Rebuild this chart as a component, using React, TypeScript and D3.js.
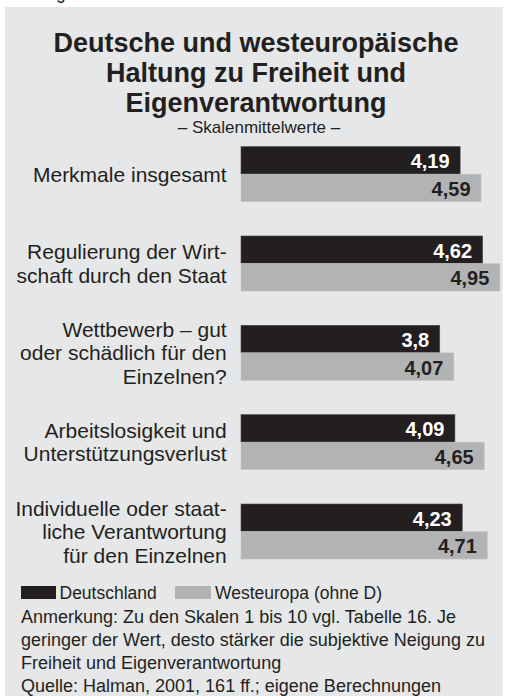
import React from 'react';
import * as d3 from 'd3';

// Skalenmittelwerte (lower = stronger preference for freedom / own responsibility)
const categories = [
  'Merkmale insgesamt',
  'Regulierung der Wirtschaft',
  'Wettbewerb',
  'Arbeitslosigkeit',
  'Verantwortung',
];
const categoryLines = [
  ['Merkmale insgesamt'],
  ['Regulierung der Wirt-', 'schaft durch den Staat'],
  ['Wettbewerb – gut', 'oder schädlich für den', 'Einzelnen?'],
  ['Arbeitslosigkeit und', 'Unterstützungsverlust'],
  ['Individuelle oder staat-', 'liche Verantwortung', 'für den Einzelnen'],
];
const deutschland = [4.19, 4.62, 3.8, 4.09, 4.23];
const westeuropa = [4.59, 4.95, 4.07, 4.65, 4.71];
const seriesKeys = ['Deutschland', 'Westeuropa (ohne D)'];

const titleLines = [
  'Deutsche und westeuropäische',
  'Haltung zu Freiheit und',
  'Eigenverantwortung',
];
const subtitle = '– Skalenmittelwerte –';
const noteLines = [
  'Anmerkung: Zu den Skalen 1 bis 10 vgl. Tabelle 16. Je',
  'geringer der Wert, desto stärker die subjektive Neigung zu',
  'Freiheit und Eigenverantwortung',
  'Quelle: Halman, 2001, 161 ff.; eigene Berechnungen',
];

const W = 505;
const H = 696;
const FONT = '"Liberation Sans", Arial, Helvetica, sans-serif';
const INK = '#231f20';
const DARK = '#231f20';
const LIGHT = '#b2b3b5';
const BG = '#e6e7e8';

const fmt = (v: number) => String(v).replace('.', ',');

export default function App() {
  const x = d3.scaleLinear().domain([0, 5]).range([241, 502.5]);

  const y = d3
    .scaleBand<string>()
    .domain(categories)
    .range([129.5, 576.2])
    .paddingInner(0.384)
    .paddingOuter(0.192);

  const inner = d3
    .scaleBand<string>()
    .domain(seriesKeys)
    .range([0, y.bandwidth()]);

  const colors = d3.scaleOrdinal<string, string>().domain(seriesKeys).range([DARK, LIGHT]);
  const series = [deutschland, westeuropa];
  const lineH = 23.5;

  return (
    <svg
      width={W}
      height={H}
      style={{ position: 'absolute', left: 0, top: 0, fontFamily: FONT }}
    >
      <rect x={0} y={0} width={W} height={H} fill="#fff" />
      {/* fragment of the line above the panel */}
      <text x={56} y={-1} fontSize={17.5} fill={INK}>g</text>
      <rect x={5} y={7} width={497.7} height={H - 7} fill={BG} />

      {titleLines.map((t, i) => (
        <text
          key={t}
          x={256}
          y={51.5 + i * 30}
          textAnchor="middle"
          fontSize={27}
          fontWeight="bold"
          fill={INK}
        >
          {t}
        </text>
      ))}
      <text x={259} y={133} textAnchor="middle" fontSize={17} fill={INK}>
        {subtitle}
      </text>

      {categories.map((c, ci) => {
        const y0 = y(c)!;
        const cy = y0 + y.bandwidth() / 2;
        const lines = categoryLines[ci];
        return (
          <g key={c}>
            {lines.map((l, li) => (
              <text
                key={l}
                x={226.7}
                y={cy + (li - (lines.length - 1) / 2) * lineH + 7.5}
                textAnchor="end"
                fontSize={21}
                fill={INK}
              >
                {l}
              </text>
            ))}
            {seriesKeys.map((k, si) => {
              const v = series[si][ci];
              const by = y0 + inner(k)!;
              const bh = inner.bandwidth();
              return (
                <g key={k}>
                  <rect
                    x={x(0)}
                    y={by}
                    width={x(v) - x(0)}
                    height={bh}
                    fill={colors(k)}
                    stroke={si === 0 ? '#4a4647' : '#c4c5c7'}
                    strokeWidth={0.6}
                  />
                  <text
                    x={x(v) - 10.5}
                    y={by + bh / 2 + 8}
                    textAnchor="end"
                    fontSize={20}
                    fontWeight="bold"
                    fill={si === 0 ? '#ffffff' : INK}
                  >
                    {fmt(v)}
                  </text>
                </g>
              );
            })}
          </g>
        );
      })}

      {/* legend */}
      <rect x={21} y={586} width={35} height={13} fill={colors(seriesKeys[0])} />
      <text x={59.5} y={599} fontSize={17.5} fill={INK}>{seriesKeys[0]}</text>
      <rect x={175} y={586} width={36} height={13} fill={colors(seriesKeys[1])} />
      <text x={215} y={599} fontSize={17.5} fill={INK}>{seriesKeys[1]}</text>

      {noteLines.map((t, i) => (
        <text key={t} x={21} y={623 + i * 23} fontSize={18} fill={INK}>
          {t}
        </text>
      ))}
    </svg>
  );
}
